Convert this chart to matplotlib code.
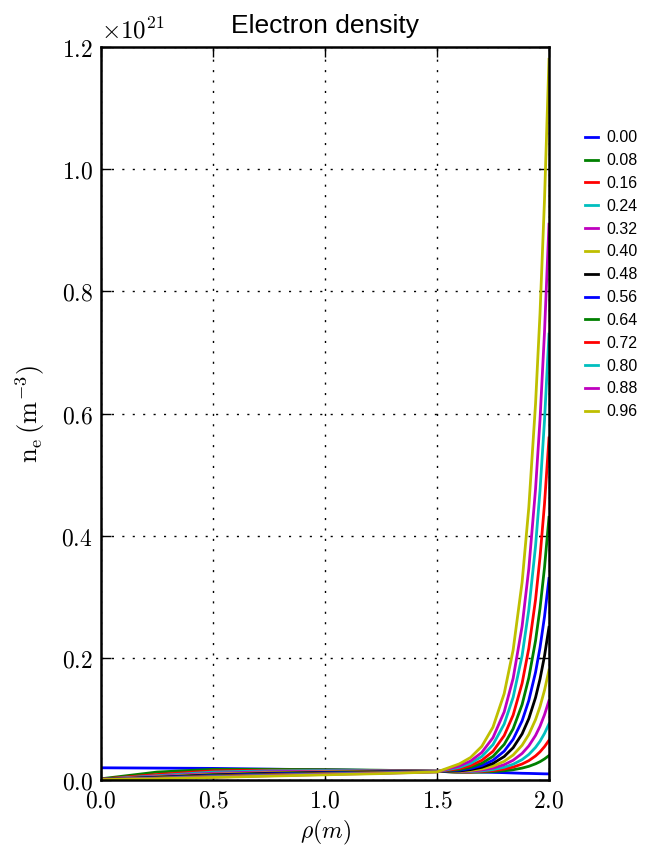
import matplotlib
matplotlib.use('Agg')
from matplotlib import pyplot as plt
from matplotlib.ticker import FormatStrFormatter

plt.rcParams['mathtext.fontset'] = 'cm'

# radius samples (m)
rho = [0.0, 0.25, 0.5, 0.75, 1.0, 1.25, 1.5, 1.6, 1.65, 1.7, 1.75, 1.8,
       1.84, 1.88, 1.91, 1.94, 1.96, 1.98, 2.0]

times = ['0.00', '0.08', '0.16', '0.24', '0.32', '0.40', '0.48',
         '0.56', '0.64', '0.72', '0.80', '0.88', '0.96']

# electron density, units of 1e21 m^-3
ne_000 = [0.020, 0.0195, 0.019, 0.0178, 0.0167, 0.0155, 0.0145, 0.014, 0.0135, 0.013, 0.0125, 0.012,
          0.0115, 0.011, 0.0108, 0.0105, 0.0103, 0.0101, 0.010]
ne_008 = [0.002, 0.013, 0.0175, 0.0175, 0.017, 0.016, 0.0145, 0.0123, 0.0126, 0.0130, 0.0138, 0.0151,
          0.0168, 0.0195, 0.0224, 0.0265, 0.0300, 0.0345, 0.040]
ne_016 = [0.0015, 0.009, 0.015, 0.016, 0.016, 0.0155, 0.0145, 0.0127, 0.0131, 0.0140, 0.0154, 0.0179,
          0.0211, 0.0262, 0.0317, 0.0394, 0.0461, 0.0546, 0.065]
ne_024 = [0.0012, 0.007, 0.013, 0.015, 0.0155, 0.015, 0.0143, 0.0130, 0.0137, 0.0150, 0.0171, 0.0209,
          0.0258, 0.0334, 0.0418, 0.0534, 0.0635, 0.0762, 0.092]
ne_032 = [0.001, 0.006, 0.011, 0.0135, 0.0145, 0.0145, 0.0142, 0.0135, 0.0145, 0.0164, 0.0195, 0.0251,
          0.0323, 0.0435, 0.0559, 0.0730, 0.0880, 0.1068, 0.130]
ne_040 = [0.001, 0.005, 0.0095, 0.012, 0.0135, 0.014, 0.014, 0.0141, 0.0156, 0.0182, 0.0227, 0.0306,
          0.0409, 0.0569, 0.0745, 0.0989, 0.1202, 0.1469, 0.180]
ne_048 = [0.001, 0.0045, 0.0085, 0.011, 0.0125, 0.0135, 0.014, 0.0149, 0.0171, 0.0208, 0.0272, 0.0384,
          0.0529, 0.0755, 0.1005, 0.1350, 0.1653, 0.2031, 0.250]
ne_056 = [0.001, 0.004, 0.0075, 0.010, 0.0118, 0.013, 0.0138, 0.0159, 0.0188, 0.0237, 0.0323, 0.0472,
          0.0667, 0.0969, 0.1303, 0.1764, 0.2168, 0.2674, 0.330]
ne_064 = [0.001, 0.0035, 0.0068, 0.009, 0.011, 0.0125, 0.0137, 0.0171, 0.0209, 0.0274, 0.0387, 0.0583,
          0.0839, 0.1236, 0.1675, 0.2281, 0.2812, 0.3477, 0.430]
ne_072 = [0.001, 0.003, 0.006, 0.0083, 0.0103, 0.012, 0.0136, 0.0187, 0.0237, 0.0322, 0.0470, 0.0727,
          0.1063, 0.1583, 0.2159, 0.2953, 0.3649, 0.4520, 0.560]
ne_080 = [0.0008, 0.0027, 0.0053, 0.0076, 0.0097, 0.0115, 0.0135, 0.0208, 0.0273, 0.0385, 0.0579, 0.0916,
          0.1355, 0.2037, 0.2791, 0.3832, 0.4744, 0.5886, 0.730]
ne_088 = [0.0008, 0.0024, 0.0047, 0.007, 0.0091, 0.011, 0.0133, 0.0230, 0.0311, 0.0451, 0.0694, 0.1115,
          0.1665, 0.2518, 0.3461, 0.4763, 0.5903, 0.7331, 0.910]
ne_096 = [0.0007, 0.0021, 0.0042, 0.0064, 0.0085, 0.0105, 0.0132, 0.0264, 0.0369, 0.0551, 0.0866, 0.1414,
          0.2129, 0.3239, 0.4465, 0.6159, 0.7642, 0.9499, 1.180]

profiles = [ne_000, ne_008, ne_016, ne_024, ne_032, ne_040, ne_048,
            ne_056, ne_064, ne_072, ne_080, ne_088, ne_096]
colors = ['b', 'g', 'r', 'c', 'm', 'y', 'k']

fig = plt.figure(figsize=(6.52, 8.52), dpi=100)
ax = fig.add_axes([0.155, 0.0845, 0.687, 0.8603])

for i, (t, ne) in enumerate(zip(times, profiles)):
    ax.plot(rho, ne, color=colors[i % 7], lw=2, label=t)

ax.set_xlim(0, 2.0)
ax.set_ylim(0, 1.2)
ax.set_xticks([0.0, 0.5, 1.0, 1.5, 2.0])
ax.set_yticks([0.0, 0.2, 0.4, 0.6, 0.8, 1.0, 1.2])
ax.xaxis.set_major_formatter(FormatStrFormatter(r'$%.1f$'))
ax.yaxis.set_major_formatter(FormatStrFormatter(r'$%.1f$'))
ax.tick_params(direction='in', length=7, width=1, top=True, right=True, labelsize=17, pad=6)
ax.grid(True, color='k', linestyle=(0, (1.5, 6)), lw=1)
for s in ax.spines.values():
    s.set_linewidth(1.8)

ax.text(0.0, 1.005, r'$\times10^{21}$', transform=ax.transAxes, fontsize=18, va='bottom', ha='left')
ax.set_title('Electron density', fontsize=19, family='Liberation Sans', pad=10)
ax.set_xlabel(r'$\rho(m)$', fontsize=17)
ax.set_ylabel(r'$\mathrm{n_e\,(m^{-3})}$', fontsize=19, labelpad=10)

fig.legend(loc='upper left', bbox_to_anchor=(0.898, 0.847), frameon=False,
           prop={'family': 'Liberation Sans', 'size': 11.5}, handlelength=0.8,
           handletextpad=0.5, labelspacing=0.49, borderpad=0, borderaxespad=0)

fig.savefig('out.png', dpi=100)
